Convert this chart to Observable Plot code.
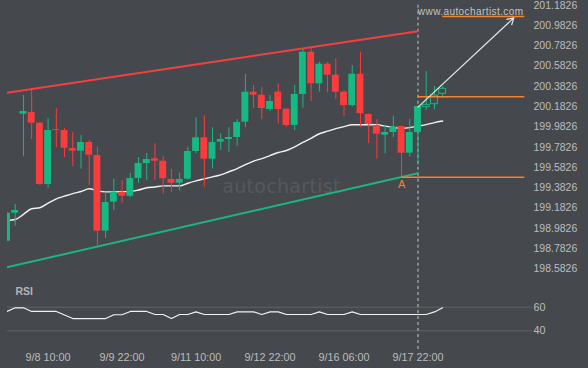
<!DOCTYPE html>
<html><head><meta charset="utf-8">
<script src="https://cdn.jsdelivr.net/npm/d3@7"></script>
<script src="https://cdn.jsdelivr.net/npm/@observablehq/plot@0.6"></script>
<style>
html,body{margin:0;padding:0;background:#45484c;}
#chart{position:relative;width:588px;height:368px;background:#45484c;overflow:hidden;font-family:"Liberation Sans",Arial,sans-serif;}
#chart > svg{position:absolute;left:0;}
</style></head><body><div id="chart"></div>
<script>
// ---- data (4h candles, index 0..53) ----
const opens  = [198.855,199.131,200.108,200.124,200.019,199.414,199.957,199.947,199.769,199.743,
                199.829,199.700,198.954,199.240,199.338,199.299,199.474,199.621,199.668,199.644,
                199.464,199.427,199.467,199.740,199.875,199.664,199.832,199.858,199.878,200.029,
                200.325,200.295,200.154,200.325,200.157,199.996,200.302,200.719,200.407,200.601,
                200.492,200.325,200.193,200.502,200.105,199.996,199.901,199.927,199.986,199.723,
                199.927,200.177,200.206,200.309];
const highs  = [199.135,199.217,200.292,200.351,200.025,200.065,200.164,199.967,199.927,199.898,
                199.848,199.782,199.338,199.467,199.454,199.523,199.681,199.720,199.816,199.693,
                199.562,199.526,199.782,200.072,200.092,199.974,199.914,199.974,200.055,200.499,
                200.391,200.374,200.292,200.407,200.160,200.391,200.749,200.753,200.620,200.618,
                200.654,200.340,200.588,200.719,200.110,200.055,199.996,200.088,199.990,200.058,
                200.190,200.529,200.381,200.381];
const lows   = [198.850,199.003,199.691,199.858,199.404,199.375,199.779,199.681,199.592,199.565,
                199.404,198.806,198.882,199.158,199.230,199.286,199.424,199.454,199.454,199.316,
                199.338,199.348,199.461,199.717,199.388,199.569,199.750,199.733,199.789,199.974,
                200.167,200.058,200.134,200.013,199.979,199.947,200.167,200.233,200.325,200.319,
                200.253,200.085,200.177,199.974,199.819,199.664,199.717,199.875,199.486,199.684,
                199.602,200.144,200.151,200.263];
const closes = [199.131,199.158,200.134,200.019,199.414,199.947,199.947,199.772,199.743,199.829,
                199.703,198.954,199.237,199.338,199.299,199.474,199.621,199.661,199.644,199.471,
                199.427,199.464,199.740,199.875,199.664,199.829,199.858,199.878,200.026,200.325,
                200.295,200.164,200.233,200.154,199.996,200.302,200.719,200.407,200.601,200.492,
                200.325,200.193,200.502,200.112,200.006,199.910,199.927,199.983,199.723,199.927,
                200.184,200.200,200.292,200.358];
const movingAvg = [199.059,199.069,199.120,199.175,199.185,199.230,199.273,199.300,199.325,199.345,
                   199.372,199.352,199.342,199.342,199.344,199.345,199.360,199.382,199.390,199.401,
                   199.401,199.401,199.427,199.450,199.470,199.490,199.510,199.540,199.570,199.610,
                   199.645,199.670,199.700,199.730,199.750,199.785,199.830,199.870,199.915,199.940,
                   199.965,199.985,200.003,200.003,200.003,200.003,199.990,199.978,199.968,199.975,
                   199.990,200.005,200.025,200.040];
const rsiValues = [56.4,59.5,59.5,56.4,56.4,56.4,56.4,53.4,50.4,50.4,
                   50.4,50.4,50.4,53.6,53.6,56.4,56.4,56.4,53.8,53.8,
                   50.4,53.8,53.8,56.1,53.8,53.8,53.8,53.8,56.1,56.1,
                   56.1,53.8,56.1,56.1,53.8,53.8,53.8,53.8,56.1,53.8,
                   53.8,53.8,56.1,53.8,53.8,53.8,53.8,53.8,53.8,53.8,
                   53.8,53.8,56.0,59.5];
const resistanceLine = [{i:0, p:200.318}, {i:50, p:200.926}];
const supportLine    = [{i:0, p:198.598}, {i:50, p:199.526}];
const levels = [{p:201.071, from:53, to:63}, {p:200.279, from:50, to:63}, {p:199.486, from:48, to:63}];
const forecastArrow = [{i1:50, p1:200.177, i2:61.66, p2:201.058}];
const pointA = [{i:48, p:199.486, label:"A"}];
const signalIndex = [50];
const priceTicks = [198.5826,198.7826,198.9826,199.1826,199.3826,199.5826,199.7826,199.9826,
                    200.1826,200.3826,200.5826,200.7826,200.9826,201.1826];
const rsiTicks = [40, 60];
const xTickIndex = [5, 14, 23, 32, 41, 50];
const xTickLabels = ["9/8 10:00","9/9 22:00","9/11 10:00","9/12 22:00","9/16 06:00","9/17 22:00"];
const firstHollow = 51;

// ---- build ----
const BG = "#45484c", UP = "#16b982", DOWN = "#fa3c3c", TXT = "#bdbdbd", ORANGE = "#f5822f";
const FONT = "'Liberation Sans', Arial, sans-serif";
const candles = opens.map((o, i) => ({i, o, h: highs[i], l: lows[i], c: closes[i], hollow: i >= firstHollow}));
const maData = movingAvg.map((v, i) => ({i, v}));
const rsiData = rsiValues.map((v, i) => ({i, v}));
const xDomain = [0.06, 63.93];
const halfBody = 0.42;
const colorOf = d => d.c >= d.o ? UP : DOWN;

const price = Plot.plot({
  width: 588, height: 280, marginTop: 0, marginBottom: 0, marginLeft: 7, marginRight: 56,
  style: {background: "transparent", color: TXT, fontFamily: FONT, fontSize: "10.5px", overflow: "visible"},
  x: {domain: xDomain, axis: null},
  y: {domain: [198.4676, 201.229], axis: "right", ticks: priceTicks, tickFormat: d3.format(".4f"),
      tickSize: 0, tickPadding: 1, label: null},
  marks: [
    Plot.text(["autochartist"], {frameAnchor: "top-left", dx: 274, dy: 186, textAnchor: "middle",
      lineAnchor: "middle", fill: "#56595d", fontSize: 19, fontFamily: "DejaVu Sans"}),
    Plot.text(["www.autochartist.com"], {frameAnchor: "top-right", dx: -9, dy: 11, textAnchor: "end",
      lineAnchor: "middle", fill: "#c4c4c4", fontSize: 10}),
    Plot.ruleX(signalIndex, {x: d => d, y1: priceTicks[priceTicks.length - 1], y2: 198.4676,
      stroke: "#c8c8c8", strokeDasharray: "3,3", strokeWidth: 1}),
    Plot.line(resistanceLine, {x: "i", y: "p", stroke: "#f24040", strokeWidth: 2, clip: true}),
    Plot.line(supportLine, {x: "i", y: "p", stroke: "#1db57f", strokeWidth: 2, clip: true}),
    Plot.line(maData, {x: "i", y: "v", stroke: "#f2f2f2", strokeWidth: 1.4, curve: "monotone-x", clip: true}),
    Plot.ruleX(candles, {x: "i", y1: "l", y2: "h", stroke: colorOf, strokeWidth: 1, clip: true}),
    Plot.rect(candles.filter(d => !d.hollow), {x1: d => d.i - halfBody, x2: d => d.i + halfBody,
      y1: "o", y2: "c", fill: colorOf, clip: true}),
    Plot.rect(candles.filter(d => d.hollow), {x1: d => d.i - halfBody, x2: d => d.i + halfBody,
      y1: "o", y2: "c", fill: BG, stroke: colorOf, strokeWidth: 1, clip: true}),
    Plot.ruleY(levels, {y: "p", x1: "from", x2: "to", stroke: ORANGE, strokeWidth: 1.5}),
    Plot.arrow(forecastArrow, {x1: "i1", y1: "p1", x2: "i2", y2: "p2", stroke: "#e6e6e6",
      strokeWidth: 1.2, headLength: 9}),
    Plot.text(pointA, {x: "i", y: "p", text: "label", dy: 7, fill: ORANGE, fontSize: 11})
  ]
});
price.style.top = "0px";
d3.select(price).selectAll("text")
  .filter(function() { return this.textContent === "www.autochartist.com"; })
  .attr("letter-spacing", "0.42px");
d3.select(price).selectAll("text")
  .filter(function() { return this.textContent === "autochartist"; })
  .attr("letter-spacing", "0.3px");

const rsi = Plot.plot({
  width: 588, height: 88, marginTop: 0, marginBottom: 18, marginLeft: 7, marginRight: 56,
  style: {background: "transparent", color: TXT, fontFamily: FONT, fontSize: "10.8px", overflow: "visible"},
  x: {domain: xDomain, ticks: xTickIndex, tickFormat: d => xTickLabels[xTickIndex.indexOf(d)],
      tickSize: 0, tickPadding: 3, label: null},
  y: {domain: [23.31, 82.63], axis: "right", ticks: rsiTicks, tickSize: 0, tickPadding: 1, label: null},
  marks: [
    Plot.ruleY(rsiTicks, {stroke: "#5f6266", strokeWidth: 1}),
    Plot.ruleX(signalIndex, {x: d => d, stroke: "#c8c8c8", strokeDasharray: "3,3", strokeWidth: 1}),
    Plot.line(rsiData, {x: "i", y: "v", stroke: "#f2f2f2", strokeWidth: 1.2, clip: true}),
    Plot.text(["RSI"], {frameAnchor: "top-left", dx: 8, dy: 11, textAnchor: "start", lineAnchor: "middle",
      fill: "#b4b4b4", fontWeight: "bold", fontSize: 10.5})
  ]
});
rsi.style.top = "280px";

const chart = document.getElementById("chart");
chart.appendChild(price);
chart.appendChild(rsi);
</script></body></html>
